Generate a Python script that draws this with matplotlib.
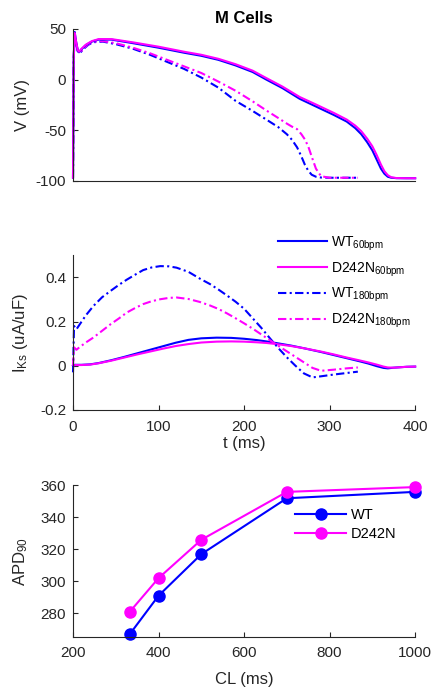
import matplotlib
matplotlib.use('Agg')
import matplotlib.pyplot as plt

plt.rcParams['font.family'] = ['Liberation Sans', 'DejaVu Sans']
plt.rcParams['mathtext.fontset'] = 'custom'
plt.rcParams['mathtext.rm'] = 'Liberation Sans'
plt.rcParams['axes.unicode_minus'] = False

BLUE = '#0000ff'
MAG = '#ff00ff'
AXC = '#262626'
DASHDOT = (0, (4, 1.6, 1, 1.6))

# --- action potentials (mV) ---
t_ap60 = [0, 0.8, 2, 3.5, 5.5, 7, 10, 15, 22, 30, 45, 70, 100, 130, 150, 170, 190, 210, 226, 245,
          265, 285, 305, 320, 330, 337, 344, 350, 355, 360, 364, 368, 372, 378, 390, 400]
v_wt60 = [-97, 20, 47, 38, 29, 27, 30, 34, 37.5, 39.5, 39.5, 36, 31.5, 26.5, 23.5, 19.5, 14, 7.5, 0, -8.5,
          -19, -27, -35, -41.5, -48, -54, -62, -70, -79, -88, -93, -96, -97, -97.4, -97.5, -97.5]
v_mut60 = [-97, 20, 46, 38, 29.5, 27.5, 30.5, 34.5, 38, 40, 40, 36.8, 32.5, 27.5, 24.5, 20.5, 15.2, 8.8, 1.5, -7,
           -17.2, -25, -33, -39.5, -45.5, -51, -58.5, -66, -74.5, -84, -90.5, -94.5, -96.5, -97.3, -97.5, -97.5]

t_ap180 = [0, 0.8, 1.8, 3.5, 5.5, 8, 12, 18, 25, 35, 50, 70, 90, 110, 130, 150, 170, 190, 210, 226,
           240, 250, 256, 262, 267, 271, 275, 279, 284, 290, 300, 315, 333]
v_wt180 = [-97, 20, 45, 36, 28, 26, 30, 34.5, 37, 37.5, 35, 30.5, 24.5, 17.5, 10.5, 2, -8, -21, -31, -39.5,
           -47, -54, -59.5, -67, -76, -84, -90, -94, -96, -96.8, -97, -97, -97]
v_mut180 = [-97, 20, 45, 36.5, 28.5, 26.5, 30.5, 35, 37.5, 38, 36, 31.5, 26, 19.5, 13, 6.5, -2, -11, -21.5, -30.5,
            -38, -43.5, -46.5, -49, -54, -59, -66, -76, -88, -95.5, -97, -97, -97]

# --- IKs (uA/uF) ---
t_iks60 = [0, 2, 10, 20, 30, 45, 60, 75, 90, 105, 120, 135, 150, 168, 185, 200, 215, 226, 240, 255,
           270, 290, 305, 320, 335, 345, 355, 363, 368, 375, 390, 400]
iks_wt60 = [0, 0.004, 0.004, 0.006, 0.012, 0.025, 0.04, 0.056, 0.072, 0.088, 0.104, 0.117, 0.124, 0.127,
            0.126, 0.122, 0.116, 0.11, 0.101, 0.091, 0.079, 0.062, 0.048, 0.034, 0.02, 0.01, -0.002,
            -0.01, -0.012, -0.009, -0.005, -0.004]
iks_mut60 = [0, 0.003, 0.003, 0.005, 0.011, 0.023, 0.037, 0.051, 0.064, 0.077, 0.089, 0.098, 0.105, 0.109,
             0.11, 0.109, 0.106, 0.103, 0.097, 0.089, 0.079, 0.064, 0.051, 0.037, 0.024, 0.015, 0.005,
             -0.004, -0.008, -0.009, -0.005, -0.004]

t_iks180 = [0, 1.2, 4, 8, 15, 24, 34, 44, 54, 63, 73, 82, 92, 102, 112, 121, 135, 148, 160, 170,
            180, 190, 200, 210, 220, 230, 240, 250, 260, 270, 280, 290, 305, 320, 333]
iks_wt180 = [-0.03, 0.18, 0.165, 0.188, 0.228, 0.271, 0.31, 0.339, 0.367, 0.39, 0.413, 0.433, 0.445, 0.451,
             0.45, 0.444, 0.425, 0.395, 0.37, 0.345, 0.318, 0.29, 0.258, 0.215, 0.172, 0.125, 0.08, 0.038,
             0.0, -0.035, -0.053, -0.048, -0.04, -0.033, -0.027]
iks_mut180 = [0.0, 0.083, 0.072, 0.085, 0.105, 0.128, 0.158, 0.188, 0.215, 0.241, 0.262, 0.279, 0.292, 0.301,
              0.307, 0.309, 0.302, 0.289, 0.273, 0.257, 0.237, 0.215, 0.192, 0.168, 0.142, 0.116, 0.09, 0.065,
              0.04, 0.015, -0.01, -0.023, -0.018, -0.012, -0.008]

# --- APD90 restitution ---
cl = [333, 400, 500, 700, 1000]
apd_wt = [267, 291, 317, 352, 356]
apd_mut = [281, 302, 326, 356, 359]

lab_wt60 = r'WT$\mathregular{_{60bpm}}$'
lab_mut60 = r'D242N$\mathregular{_{60bpm}}$'
lab_wt180 = r'WT$\mathregular{_{180bpm}}$'
lab_mut180 = r'D242N$\mathregular{_{180bpm}}$'

fig = plt.figure(figsize=(4.32, 6.9), dpi=100)
ax1 = fig.add_axes([0.169, 0.738, 0.792, 0.220])
ax2 = fig.add_axes([0.169, 0.406, 0.792, 0.224])
ax3 = fig.add_axes([0.169, 0.0772, 0.792, 0.2192])


def style(ax):
    for s in ['top', 'right']:
        ax.spines[s].set_visible(False)
    for s in ['left', 'bottom']:
        ax.spines[s].set_color(AXC)
        ax.spines[s].set_linewidth(0.8)
    ax.tick_params(direction='in', length=3.5, width=0.8, colors=AXC, labelsize=11,
                   labelcolor=AXC)
    ax.tick_params(axis='y', pad=5)
    ax.tick_params(axis='x', pad=7)


lw = 1.5
# V trace
ax1.plot(t_ap180, v_wt180, linestyle=DASHDOT, color=BLUE, lw=lw)
ax1.plot(t_ap180, v_mut180, linestyle=DASHDOT, color=MAG, lw=lw)
ax1.plot(t_ap60, v_wt60, '-', color=BLUE, lw=lw)
ax1.plot(t_ap60, v_mut60, '-', color=MAG, lw=lw)
ax1.set_xlim(0, 400)
ax1.set_ylim(-100, 50)
ax1.set_yticks([-100, -50, 0, 50])
ax1.set_xticks([])
ax1.set_ylabel('V (mV)', fontsize=12, color=AXC)
ax1.set_title('M Cells', fontsize=12, fontweight='bold', pad=4)
style(ax1)

# IKs
ax2.plot(t_iks60, iks_wt60, '-', color=BLUE, lw=lw, label=lab_wt60)
ax2.plot(t_iks60, iks_mut60, '-', color=MAG, lw=lw, label=lab_mut60)
ax2.plot(t_iks180, iks_wt180, linestyle=DASHDOT, color=BLUE, lw=lw, label=lab_wt180)
ax2.plot(t_iks180, iks_mut180, linestyle=DASHDOT, color=MAG, lw=lw, label=lab_mut180)
ax2.set_xlim(0, 400)
ax2.set_ylim(-0.2, 0.5)
ax2.set_xticks([0, 100, 200, 300, 400])
ax2.set_yticks([-0.2, 0, 0.2, 0.4])
ax2.set_yticklabels(['-0.2', '0', '0.2', '0.4'])
ax2.set_xlabel('t (ms)', fontsize=12, color=AXC, labelpad=2)
ax2.set_ylabel(r'I$\mathregular{_{Ks}}$ (uA/uF)', fontsize=12, color=AXC)
style(ax2)
ax2.legend(loc='center left', bbox_to_anchor=(0.599, 0.825), frameon=False, fontsize=10,
           handlelength=3.5, handletextpad=0.35, borderpad=0, borderaxespad=0, labelspacing=0.55)

# APD90 vs CL
ax3.plot(cl, apd_wt, '-o', color=BLUE, lw=lw, ms=8, label='WT')
ax3.plot(cl, apd_mut, '-o', color=MAG, lw=lw, ms=8, label='D242N')
ax3.set_xlim(200, 1000)
ax3.set_ylim(265.3, 360)
ax3.set_xticks([200, 400, 600, 800, 1000])
ax3.set_yticks([280, 300, 320, 340, 360])
ax3.set_xlabel('CL (ms)', fontsize=12, color=AXC, labelpad=8)
ax3.set_ylabel(r'APD$\mathregular{_{90}}$', fontsize=12, color=AXC)
style(ax3)
for a in (ax1, ax2, ax3):
    for ln in a.get_lines():
        ln.set_clip_on(False)
ax3.legend(loc='center left', bbox_to_anchor=(0.649, 0.742), frameon=False, fontsize=10.5,
           handlelength=3.5, handletextpad=0.35, borderpad=0, borderaxespad=0, labelspacing=0.3)

for a in (ax1, ax2, ax3):
    a.yaxis.set_label_coords(-0.125, 0.5)

fig.savefig('out.png', dpi=100)
